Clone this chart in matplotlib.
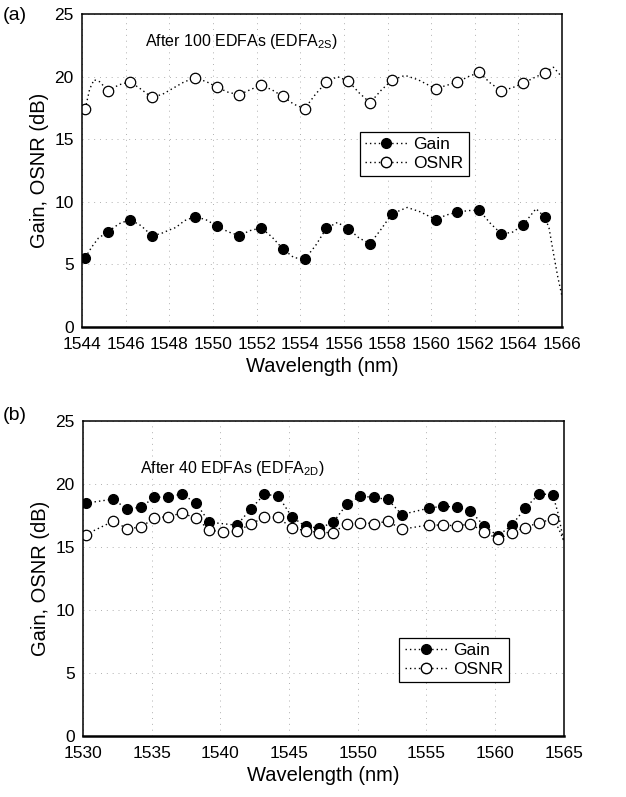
import matplotlib
matplotlib.use("Agg")
import matplotlib.pyplot as plt
from matplotlib.lines import Line2D

plt.rcParams['font.family'] = ['Liberation Sans', 'DejaVu Sans']
plt.rcParams['mathtext.fontset'] = 'custom'
plt.rcParams['mathtext.rm'] = 'Liberation Sans'

# ---- panel (a): after 100 EDFAs (EDFA2S) ----
a_wl = [1544.15, 1545.2, 1546.2, 1547.2, 1549.2, 1550.2, 1551.2, 1552.2, 1553.2, 1554.2,
        1555.2, 1556.2, 1557.2, 1558.2, 1560.2, 1561.2, 1562.2, 1563.2, 1564.2, 1565.2]
a_gain = [5.55, 7.62, 8.58, 7.30, 8.82, 8.05, 7.30, 7.92, 6.24, 5.41,
          7.89, 7.86, 6.66, 9.04, 8.58, 9.17, 9.33, 7.46, 8.13, 8.80]
a_osnr = [17.43, 18.87, 19.59, 18.34, 19.88, 19.14, 18.55, 19.32, 18.42, 17.43,
          19.56, 19.64, 17.91, 19.72, 19.03, 19.56, 20.34, 18.87, 19.46, 20.31]

# dotted trace (passes through the markers, with overshoots)
a_gain_line_wl = [1544.15, 1544.45, 1544.75, 1545.2, 1545.7, 1546.2, 1546.7, 1547.2, 1547.6,
                  1548.0, 1548.3, 1548.7, 1549.2, 1549.7, 1550.2, 1550.7, 1551.2, 1551.7,
                  1552.2, 1552.7, 1553.2, 1553.7, 1554.2, 1554.7, 1555.2, 1555.7, 1556.2,
                  1556.7, 1557.2, 1557.7, 1558.2, 1558.9, 1559.5, 1560.2, 1560.7, 1561.2,
                  1561.7, 1562.2, 1562.7, 1563.2, 1563.7, 1564.2, 1564.8, 1565.2, 1565.4,
                  1565.6, 1565.8, 1566.0]
a_gain_line = [5.55, 6.40, 7.10, 7.62, 8.25, 8.58, 8.10, 7.30, 7.45,
               7.75, 7.95, 8.50, 8.82, 8.55, 8.05, 7.60, 7.30, 7.70,
               7.92, 7.20, 6.24, 5.55, 5.41, 6.50, 7.89, 8.35, 7.86,
               7.10, 6.66, 7.80, 9.04, 9.55, 9.20, 8.58, 8.95, 9.17,
               9.30, 9.33, 8.30, 7.46, 7.55, 8.13, 9.45, 8.80, 7.90,
               5.90, 4.00, 2.40]
a_osnr_line_wl = [1544.15, 1544.35, 1544.55, 1544.8, 1545.2, 1545.7, 1546.2, 1546.7, 1547.2,
                  1547.7, 1548.2, 1548.7, 1549.2, 1549.7, 1550.2, 1550.7, 1551.2, 1551.7,
                  1552.2, 1552.7, 1553.2, 1553.7, 1554.2, 1554.7, 1555.2, 1555.7, 1556.2,
                  1556.7, 1557.2, 1557.7, 1558.2, 1558.8, 1559.4, 1560.2, 1560.7, 1561.2,
                  1561.7, 1562.2, 1562.7, 1563.2, 1563.7, 1564.2, 1564.7, 1565.2, 1565.6,
                  1565.95]
a_osnr_line = [17.43, 19.00, 19.75, 19.60, 18.87, 19.35, 19.59, 19.00, 18.34,
               18.60, 19.10, 19.60, 19.88, 19.60, 19.14, 18.75, 18.55, 18.95,
               19.32, 18.95, 18.42, 17.80, 17.43, 18.60, 19.56, 20.00, 19.64,
               18.70, 17.91, 18.90, 19.72, 20.10, 19.75, 19.03, 19.30, 19.56,
               20.00, 20.34, 19.50, 18.87, 19.10, 19.46, 19.90, 20.31, 20.75,
               20.05]

# ---- panel (b): after 40 EDFAs (EDFA2D) ----
b_gain_wl = [1530.2, 1532.2, 1533.2, 1534.2, 1535.2, 1536.2, 1537.2, 1538.2, 1539.2,
             1541.2, 1542.2, 1543.2, 1544.2, 1545.2, 1546.2, 1547.2, 1548.2, 1549.2,
             1550.2, 1551.2, 1552.2, 1553.2, 1555.2, 1556.2, 1557.2, 1558.2, 1559.2,
             1560.2, 1561.2, 1562.2, 1563.2, 1564.2]
b_gain = [18.46, 18.78, 17.99, 18.14, 18.91, 18.97, 19.18, 18.49, 16.95,
          16.71, 17.99, 19.15, 19.05, 17.38, 16.61, 16.48, 16.93, 18.36,
          19.02, 18.91, 18.75, 17.56, 18.07, 18.22, 18.14, 17.85, 16.66,
          15.87, 16.69, 18.07, 19.20, 19.13]
b_osnr_wl = [1530.2, 1532.2, 1533.2, 1534.2, 1535.2, 1536.2, 1537.2, 1538.2, 1539.2,
             1540.2, 1541.2, 1542.2, 1543.2, 1544.2, 1545.2, 1546.2, 1547.2, 1548.2,
             1549.2, 1550.2, 1551.2, 1552.2, 1553.2, 1555.2, 1556.2, 1557.2, 1558.2,
             1559.2, 1560.2, 1561.2, 1562.2, 1563.2, 1564.2]
b_osnr = [15.97, 17.03, 16.45, 16.55, 17.29, 17.40, 17.67, 17.29, 16.34,
          16.15, 16.23, 16.79, 17.35, 17.35, 16.47, 16.29, 16.13, 16.13,
          16.82, 16.92, 16.84, 17.03, 16.39, 16.74, 16.71, 16.68, 16.79,
          16.21, 15.60, 16.10, 16.53, 16.92, 17.19]
# where the dotted traces leave the last channel and drop at the band edge
b_gain_tail_wl = [1564.2, 1564.6, 1565.0]
b_gain_tail = [19.13, 17.6, 15.4]
b_osnr_tail_wl = [1564.2, 1564.6, 1565.0]
b_osnr_tail = [17.19, 16.5, 15.5]

fig = plt.figure(figsize=(6.26, 7.97), dpi=100)
ax_a = fig.add_axes([0.131, 0.5897, 0.767, 0.3927])
ax_b = fig.add_axes([0.1326, 0.0765, 0.768, 0.3957])

grid_kw = dict(color='#b0b0b0', linestyle=(0, (1, 5)), linewidth=0.7)
line_kw = dict(color='black', linestyle=(0, (1, 2.2)), linewidth=1.0)
gain_kw = dict(marker='o', markersize=7, markerfacecolor='black', markeredgecolor='black',
               linestyle='none')
osnr_kw = dict(marker='o', markersize=7.5, markerfacecolor='white', markeredgecolor='black',
               markeredgewidth=0.9, linestyle='none')


def style_axes(ax, xticks, xlim):
    ax.set_xlim(xlim)
    ax.set_ylim(0, 25)
    ax.set_xticks(xticks)
    ax.set_yticks([0, 5, 10, 15, 20, 25])
    ax.tick_params(length=0, labelsize=12.5)
    ax.tick_params(axis='x', pad=7)
    ax.tick_params(axis='y', pad=6)
    ax.grid(True, **grid_kw)
    ax.set_axisbelow(True)
    for s in ax.spines.values():
        s.set_linewidth(1.1)
    ax.spines['bottom'].set_linewidth(1.8)
    ax.set_xlabel('Wavelength (nm)', fontsize=14.5, labelpad=4)
    ax.set_ylabel('Gain, OSNR (dB)', fontsize=14.5, labelpad=4)


# panel (a)
ax_a.plot(a_gain_line_wl, a_gain_line, **line_kw)
ax_a.plot(a_osnr_line_wl, a_osnr_line, **line_kw)
ax_a.plot(a_wl, a_gain, **gain_kw)
ax_a.plot(a_wl, a_osnr, **osnr_kw)
style_axes(ax_a, list(range(1544, 1567, 2)), (1544, 1566))
ax_a.text(1546.9, 22.8, r'After 100 EDFAs (EDFA$_{\rm 2S}$)', fontsize=11.5, va='center')

# panel (b)
ax_b.plot(b_gain_wl, b_gain, **line_kw)
ax_b.plot(b_gain_tail_wl, b_gain_tail, **line_kw)
ax_b.plot(b_osnr_wl, b_osnr, **line_kw)
ax_b.plot(b_osnr_tail_wl, b_osnr_tail, **line_kw)
ax_b.plot(b_gain_wl, b_gain, **gain_kw)
ax_b.plot(b_osnr_wl, b_osnr, **osnr_kw)
style_axes(ax_b, list(range(1530, 1566, 5)), (1530, 1565))
ax_b.text(1534.15, 21.2, r'After 40 EDFAs (EDFA$_{\rm 2D}$)', fontsize=11.5, va='center')

handles = [Line2D([], [], color='black', linestyle=(0, (1, 2.2)), linewidth=1.0, marker='o',
                  markersize=7, markerfacecolor='black', markeredgecolor='black'),
           Line2D([], [], color='black', linestyle=(0, (1, 2.2)), linewidth=1.0, marker='o',
                  markersize=7.5, markerfacecolor='white', markeredgecolor='black')]
for ax, anchor in [(ax_a, (0.578, 0.624)), (ax_b, (0.658, 0.312))]:
    leg = ax.legend(handles, ['Gain', 'OSNR'], loc='upper left', bbox_to_anchor=anchor,
                    fontsize=12.5, frameon=True, fancybox=False, edgecolor='black',
                    framealpha=1, handlelength=2.5, handletextpad=0.3, borderpad=0.3,
                    labelspacing=0.2, borderaxespad=0)
    leg.get_frame().set_linewidth(0.9)

fig.text(0.005, 0.981, '(a)', fontsize=14, va='center')
fig.text(0.005, 0.479, '(b)', fontsize=14, va='center')

fig.savefig('out.png', dpi=100)
